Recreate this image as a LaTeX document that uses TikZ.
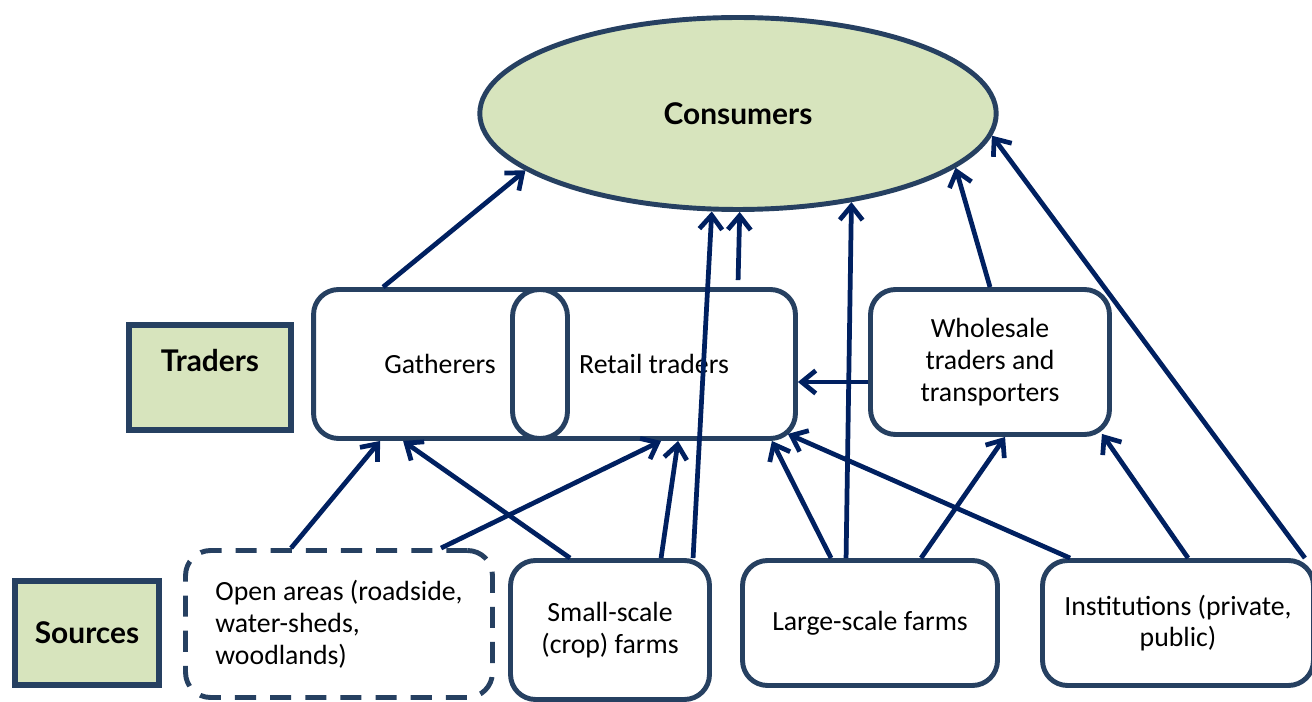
\documentclass[tikz,border=0pt]{standalone}
\usepackage{fontspec}
\setmainfont{Carlito}
\newfontfamily\headfont{Lato}
\usetikzlibrary{arrows.meta,calc,shapes.geometric}

\definecolor{edgeblue}{RGB}{38,64,97}
\definecolor{arrownavy}{RGB}{0,32,96}
\definecolor{leafgreen}{RGB}{215,228,189}

\begin{document}
\begin{tikzpicture}[x=0.02cm, y=-0.02cm,
    box/.style={draw=edgeblue, line width=2.8pt, rounded corners=0.5cm,
        fill=white, inner sep=0pt, align=center,
        font=\fontsize{15.8}{18.1}\selectfont},
    headbox/.style={draw=edgeblue, line width=3.3pt, fill=leafgreen,
        inner sep=0pt, font=\headfont\bfseries\fontsize{17}{19}\selectfont},
    flow/.style={draw=arrownavy, line width=2.7pt,
        -{Straight Barb[length=8pt,width=13pt]}}]
% Fix the page to the size of the drawing,
% everything is placed at pixel coordinates
\useasboundingbox (0,0) rectangle (1312,702);

% The consumers sit on top of everything
\node[ellipse, draw=edgeblue, line width=2.8pt, fill=leafgreen,
    minimum width=10.33cm, minimum height=3.84cm, inner sep=0pt,
    font=\headfont\bfseries\fontsize{17}{19}\selectfont]
    (cons) at (738,113.5) {Consumers};

% The two row titles on the left
\node[headbox, minimum width=3.24cm, minimum height=2.10cm,
    text depth=0.7cm] (trad) at (210,377.5) {Traders};
\node[headbox, minimum width=2.88cm, minimum height=2.08cm]
    (src) at (87,633) {Sources};

% The trader row: one wide box with gatherers and retailers,
% a small pill in the middle, and the wholesalers
\node[box, minimum width=9.64cm, minimum height=2.98cm]
    (bigbox) at (554.5,364) {};
\node[box, minimum width=1.10cm, minimum height=2.98cm,
    rounded corners=0.54cm] (pill) at (540,364) {};
\node[font=\fontsize{15.8}{18.1}\selectfont] (gath) at (440,364) {Gatherers};
\node[font=\fontsize{15.8}{18.1}\selectfont] (retail) at (654,364) {Retail traders};
\node[box, minimum width=4.78cm, minimum height=2.90cm]
    (whole) at (990,362) {Wholesale\\traders and\\transporters};

% The source row along the bottom
\node[box, align=left, dash pattern=on 12pt off 8pt,
    minimum width=6.14cm, minimum height=2.94cm]
    (open) at (339,624) {Open areas (roadside,\\water-sheds,\\woodlands)};
\node[box, minimum width=3.98cm, minimum height=2.78cm]
    (small) at (610,630) {Small-scale\\(crop) farms};
\node[box, minimum width=5.10cm, minimum height=2.50cm]
    (large) at (870,623) {Large-scale farms};
\node[box, minimum width=5.42cm, minimum height=2.50cm]
    (inst) at (1178,623) {Institutions (private,\\public)};

% Traders (and some sources) up to the consumers
\draw[flow] ($(bigbox.north west)+(72,0)$) -- (cons.-165);
\draw[flow] ($(bigbox.north west)+(427,-7)$) -- (cons.-89);
\draw[flow] ($(small.north west)+(185,0)$) -- (cons.-105);
\draw[flow] ($(large.north west)+(106,0)$) -- (cons.-38);
\draw[flow] (whole.north) -- (cons.-14);
\draw[flow] ($(inst.north east)+(-11,0)$) -- (cons.-5);

% Wholesalers pass goods on to the retailers
\draw[flow] ($(whole.west)+(0,20)$) -- ($(bigbox.east)+(0,18)$);

% Sources up to the traders
\draw[flow] ($(open.north west)+(108,0)$) -- ($(bigbox.south west)+(69,0)$);
\draw[flow] ($(open.north west)+(258,0)$) -- ($(bigbox.south west)+(350,0)$);
\draw[flow] ($(small.north west)+(62,0)$) -- ($(bigbox.south west)+(92,0)$);
\draw[flow] ($(small.north west)+(153,0)$) -- ($(bigbox.south west)+(367,0)$);
\draw[flow] ($(large.north west)+(91,0)$) -- ($(bigbox.south east)+(-26,0)$);
\draw[flow] ($(inst.north west)+(30,0)$) -- ($(bigbox.south east)+(-10,-7)$);
\draw[flow] ($(large.north west)+(181,0)$) -- ($(whole.south west)+(137,0)$);
\draw[flow] ($(inst.north west)+(148,0)$) -- ($(whole.south east)+(-10,-3)$);
\end{tikzpicture}
\end{document}
